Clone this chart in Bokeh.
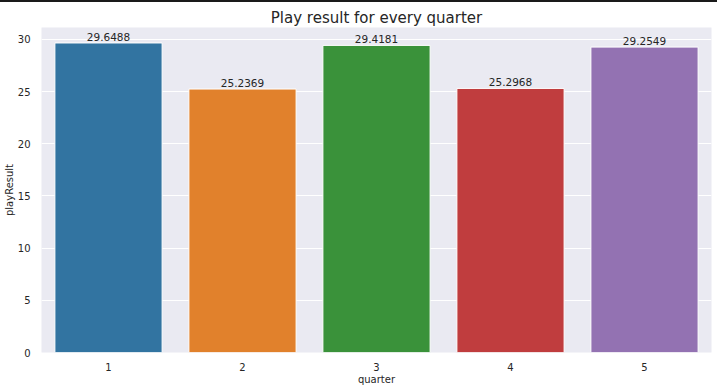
from bokeh.plotting import figure
from bokeh.models import ColumnDataSource, Div, LabelSet, FactorRange, Range1d, SingleIntervalTicker
from bokeh.core.properties import value
from bokeh.layouts import column
from bokeh.embed import file_html
from bokeh.resources import INLINE

quarters = ["1", "2", "3", "4", "5"]
play_result = [29.6488, 25.2369, 29.4181, 25.2968, 29.2549]
colors = ["#3274a1", "#e1812c", "#3a923a", "#c03d3e", "#9372b2"]
labels = ["29.6488", "25.2369", "29.4181", "25.2968", "29.2549"]

src = ColumnDataSource(dict(q=quarters, v=play_result, c=colors, t=labels))

p = figure(width=717, height=385, x_range=FactorRange(*quarters, range_padding=0),
           y_range=Range1d(0, max(play_result) * 1.05),
           output_backend="svg", toolbar_location=None,
           min_border_left=41, min_border_right=6, min_border_top=25, min_border_bottom=35)

p.title.text = "Play result for every quarter"
p.title.align = "center"
p.title.text_font = "DejaVu Sans"
p.title.text_font_size = "15px"
p.title.text_font_style = "normal"
p.title.text_color = "#262626"
p.title.offset = 0
p.title.standoff = 2

p.background_fill_color = "#eaeaf2"
p.border_fill_color = "white"
p.outline_line_color = None

p.vbar(x="q", top="v", width=0.8, fill_color="c", line_color="white", line_width=1, source=src)

p.add_layout(LabelSet(x="q", y="v", text="t", source=src, text_align="center",
                      text_baseline="alphabetic", y_offset=2, text_font_size=value("10.5px"),
                      text_font=value("DejaVu Sans"), text_color="#262626"))

p.yaxis.ticker = SingleIntervalTicker(interval=5)
for ax in (p.xaxis[0], p.yaxis[0]):
    ax.axis_line_color = None
    ax.major_tick_line_color = None
    ax.minor_tick_line_color = None
    ax.major_label_text_font = "DejaVu Sans"
    ax.major_label_text_font_size = "10px"
    ax.major_label_text_color = "#262626"
    ax.axis_label_text_font = "DejaVu Sans"
    ax.axis_label_text_font_size = "10px"
    ax.axis_label_text_font_style = "normal"
    ax.axis_label_text_color = "#262626"

p.xaxis.axis_label = "quarter"
p.yaxis.axis_label = "playResult"
p.yaxis.major_label_standoff = 5
p.xaxis.major_label_standoff = 4
p.yaxis.axis_label_standoff = 0
p.xaxis.axis_label_standoff = 0

p.xgrid.grid_line_color = None
p.ygrid.grid_line_color = "white"
p.ygrid.grid_line_width = 1

top_line = Div(text="", width=717, height=2, margin=0, styles={"background-color": "#1a1a1a"})
layout = column(top_line, p, spacing=0, margin=0)

open("out.html", "w").write(file_html(layout, INLINE))
